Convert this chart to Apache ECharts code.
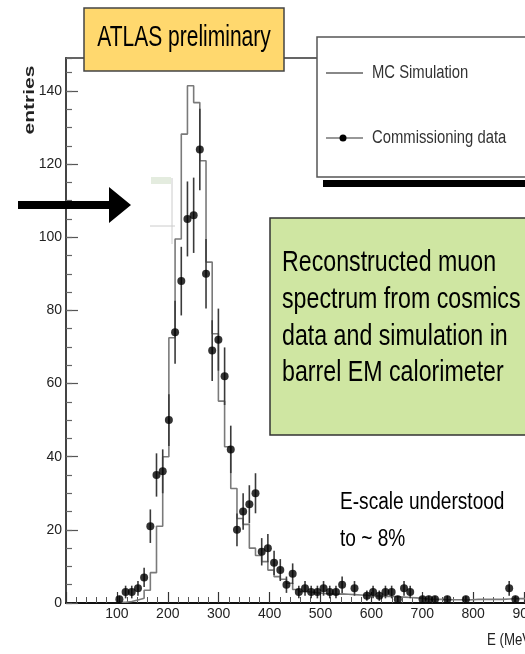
<!DOCTYPE html>
<html>
<head>
<meta charset="utf-8">
<script src="https://cdn.jsdelivr.net/npm/echarts@6/dist/echarts.min.js"></script>
<style>
html,body{margin:0;padding:0;background:#fff;}
#chart{width:525px;height:654px;}
</style>
</head>
<body>
<div id="chart"></div>
<script>
// Bin centres (MeV) of the data histogram
const energy = [104.9,117.1,129.2,141.4,153.5,165.7,177.8,190.0,202.1,214.3,
226.5,238.6,250.8,262.9,275.1,287.2,299.4,311.6,323.7,335.9,
348.0,360.2,372.3,384.5,396.6,408.8,421.0,433.1,445.3,457.4,
469.6,481.7,493.9,506.0,518.2,530.4,542.5,554.7,566.8,579.0,
591.1,603.3,615.5,627.6,639.8,651.9,664.1,676.2,688.4,700.5,
712.7,724.9,737.0,749.2,761.3,773.5,785.6,797.8,810.0,822.1,
834.3,846.4,858.6,870.7,882.9,895.1];
// Commissioning data entries (null = empty bin, not drawn)
const dataCounts = [1,3,3,4,7,21,35,36,50,74,
88,105,106,124,90,69,72,62,42,20,
25,27,30,14,15,11,9,5,8,3,
4,3,3,4,3,3,5,null,4,null,
2,3,2,3,3,1,4,3,null,1,
1,1,null,1,null,null,1,null,null,null,
null,null,null,4,1,null];
// MC simulation histogram heights (bin k spans energy[k]..energy[k+1])
const mcCounts = [0.2,0.4,0.8,1.3,3.5,8.3,21,40,72.5,99.5,
128.2,141.4,136.8,120.9,93.2,73.6,55.2,42.7,31.3,23.1,
21.5,15,13,11.3,9,7.2,6.5,5.4,3.7,3.1,
3,2.8,2.6,2.5,2.4,2.5,2.4,2.3,2.2,2.1,
1.9,1.9,1.8,1.8,1.7,1.6,1.5,1.4,1.3,1.1,
1.0,1.0,0.9,0.9,0.9,0.8,0.9,1.0,1.0,1.0,
1.0,1.0,1.1,1.2,1.2,1.2];
const mcEnd = 920;
const xTicks = {min:0, max:1000, step:100};
const yTicks = {min:0, max:149, step:20, minorStep:5};

const sans = "'Liberation Sans',Arial,sans-serif";

const mcLine = energy.map((e,i)=>[e, mcCounts[i]]);
mcLine.push([mcEnd, mcCounts[mcCounts.length-1]]);
const dataPts = [];
energy.forEach((e,i)=>{ if (dataCounts[i] !== null && dataCounts[i] !== undefined) dataPts.push([e, dataCounts[i]]); });

const chart = echarts.init(document.getElementById('chart'), null, {renderer:'canvas'});

function txt(text, x, y, size, opts) {
  opts = opts || {};
  return {
    type:'text', x:x, y:y, rotation: opts.rotation || 0, scaleX: opts.sx || 1, scaleY: opts.sy || 1, z: 100,
    style:{
      text:text, x:0, y:0,
      fill: opts.color || '#000',
      fontSize:size, fontFamily: opts.family || sans, fontWeight: opts.weight || 'normal',
      align: opts.align || 'left', verticalAlign:'middle',
      textAlign: opts.align || 'left', textVerticalAlign:'middle'
    }
  };
}

const option = {
  animation:false,
  backgroundColor:'#fff',
  grid:{left:66, top:58, right:-50, bottom:51, outerBoundsMode:'none', containLabel:false,
        show:true, borderColor:'#333', borderWidth:1.5, backgroundColor:'transparent'},
  xAxis:{
    type:'value', min:xTicks.min, max:xTicks.max, interval:xTicks.step,
    axisLine:{show:true, onZero:false, lineStyle:{color:'#111', width:2}},
    axisTick:{show:true, inside:true, length:11, lineStyle:{color:'#333', width:1.2}},
    minorTick:{show:true, splitNumber:5, length:6, lineStyle:{color:'#555', width:1}},
    axisLabel:{color:'#222', fontSize:14, margin:4, fontFamily:sans, showMinLabel:false,
               formatter:function(v){return String(v);}},
    splitLine:{show:false}
  },
  yAxis:[{
    type:'value', min:yTicks.min, max:yTicks.max, interval:yTicks.step, position:'left',
    axisLine:{show:true, lineStyle:{color:'#444', width:2}},
    axisTick:{show:true, inside:true, length:12, lineStyle:{color:'#555', width:1.2}},
    axisLabel:{color:'#222', fontSize:14, margin:4, fontFamily:sans, showMaxLabel:false},
    splitLine:{show:false}
  },{
    type:'value', min:yTicks.min, max:yTicks.max, interval:yTicks.minorStep, position:'left',
    axisLine:{show:false},
    axisTick:{show:true, inside:true, length:6, lineStyle:{color:'#666', width:1.2}},
    axisLabel:{show:false},
    splitLine:{show:false}
  }],
  series:[
    {
      name:'MC Simulation', type:'line', step:'end', data:mcLine, yAxisIndex:0,
      symbol:'none', lineStyle:{color:'#7a7a7a', width:1.6}, z:2, silent:true
    },
    {
      name:'errors', type:'custom', data:dataPts, yAxisIndex:0, z:3, silent:true,
      renderItem:function(params, api){
        const x = api.value(0), y = api.value(1);
        const e = Math.sqrt(y);
        const top = api.coord([x, y+e]);
        const bot = api.coord([x, Math.max(y-e, 0)]);
        return {type:'line', shape:{x1:top[0], y1:top[1], x2:bot[0], y2:bot[1]},
                style:{stroke:'#3a3a3a', lineWidth:1.6}};
      }
    },
    {
      name:'Commissioning data', type:'scatter', data:dataPts, yAxisIndex:0, z:4,
      symbol:'circle', symbolSize:8, itemStyle:{color:'#000'}, silent:true
    }
  ],
  graphic:[
    // stray stat-box remnants
    {type:'line', shape:{x1:172, y1:178, x2:172, y2:244}, style:{stroke:'#ccc', lineWidth:1}, z:50},
    {type:'line', shape:{x1:150, y1:226, x2:175, y2:226}, style:{stroke:'#ccc', lineWidth:1}, z:50},
    {type:'rect', shape:{x:151, y:177, width:20, height:7}, style:{fill:'#e4ecdf', stroke:null}, z:50},
    // arrow
    {type:'polygon', shape:{points:[[18,201],[109,201],[109,187],[131,205],[109,223],[109,209],[18,209]]},
     style:{fill:'#000'}, z:60},
    // ATLAS box
    {type:'rect', shape:{x:84, y:8, width:200, height:63}, style:{fill:'#FFD86E', stroke:'#444', lineWidth:1.5}, z:70},
    txt('ATLAS preliminary', 184, 38, 30, {align:'center', sx:0.7}),
    // legend box
    {type:'rect', shape:{x:323, y:180, width:300, height:7}, style:{fill:'#000'}, z:70},
    {type:'rect', shape:{x:317, y:37, width:300, height:140}, style:{fill:'#fff', stroke:'#555', lineWidth:1.5}, z:71},
    {type:'line', shape:{x1:326, y1:73, x2:363, y2:73}, style:{stroke:'#888', lineWidth:2}, z:72},
    txt('MC Simulation', 372, 73, 19, {sx:0.78, color:'#333'}),
    {type:'line', shape:{x1:326, y1:138, x2:363, y2:138}, style:{stroke:'#333', lineWidth:1.2}, z:72},
    {type:'circle', shape:{cx:343, cy:138, r:3.5}, style:{fill:'#000'}, z:73},
    txt('Commissioning data', 372, 138, 19, {sx:0.78, color:'#333'}),
    // green annotation box
    {type:'rect', shape:{x:270, y:218, width:300, height:217}, style:{fill:'#CFE6A2', stroke:'#333', lineWidth:1.5}, z:70},
    txt('Reconstructed muon', 282, 263, 29, {sx:0.8}),
    txt('spectrum from cosmics', 282, 300, 29, {sx:0.8}),
    txt('data and simulation in', 282, 337, 29, {sx:0.8}),
    txt('barrel EM calorimeter', 282, 373, 29, {sx:0.8}),
    // E-scale note
    txt('E-scale understood', 340, 503, 23, {sx:0.83}),
    txt('to ~ 8%', 340, 540, 23, {sx:0.83}),
    // axis titles
    txt('entries', 30, 100, 14, {rotation:Math.PI/2, align:'center', weight:'bold', sx:1.5, color:'#222'}),
    txt('E (MeV)', 487, 640, 17, {sx:0.78, color:'#222'})
  ]
};
chart.setOption(option);
</script>
</body>
</html>
